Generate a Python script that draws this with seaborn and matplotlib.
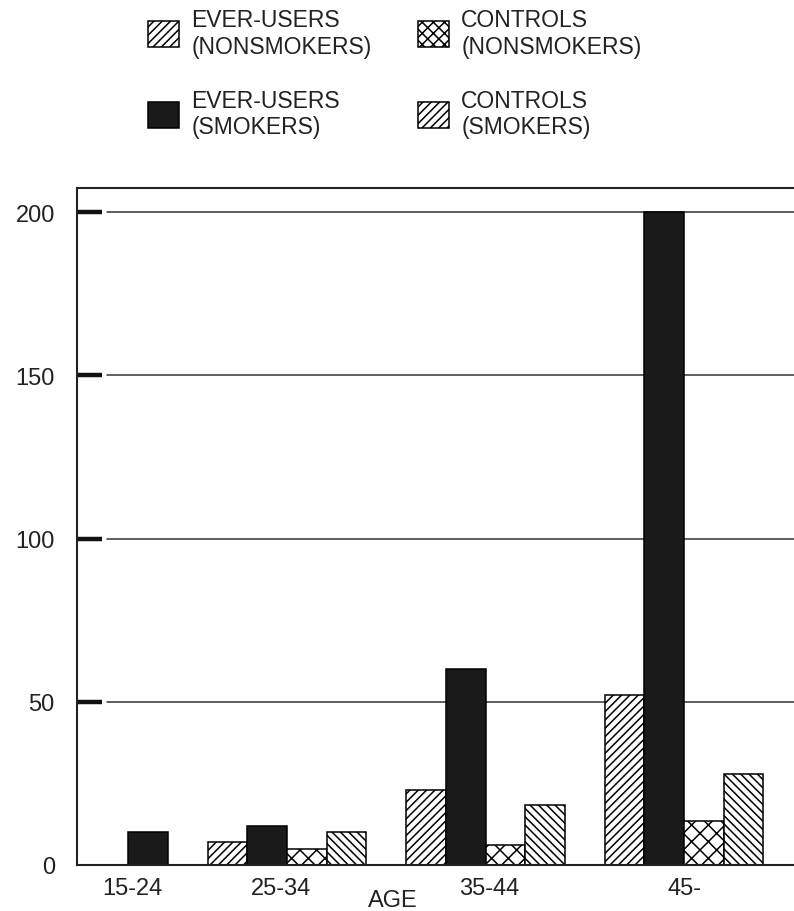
import matplotlib
matplotlib.use("Agg")
import matplotlib.pyplot as plt
from matplotlib.patches import Patch
import seaborn as sns
import pandas as pd

# data
age_groups = ["15-24", "25-34", "35-44", "45-"]
series = ["EVER-USERS\n(NONSMOKERS)", "EVER-USERS\n(SMOKERS)",
          "CONTROLS\n(NONSMOKERS)", "CONTROLS\n(SMOKERS)"]
ever_nonsmokers = [None, 7, 23, 52]
ever_smokers = [10, 12, 60, 200]
controls_nonsmokers = [None, 5, 6, 13.5]
controls_smokers = [None, 10, 18.5, 28]

y_ticks = [0, 50, 100, 150, 200]

# layout: where each age group sits on the x axis, and where its label goes
group_pos = [0.4, 1, 2, 3]
label_pos = [0.22, 0.97, 2.02, 3.0]

fills = ["white", "#1a1a1a", "white", "white"]
hatches = ["////", "", "xx", "\\\\\\\\"]
legend_hatches = ["////", "", "xxx", "////"]
text_color = "#222222"

rows = []
for name, vals in zip(series, [ever_nonsmokers, ever_smokers, controls_nonsmokers, controls_smokers]):
    for pos, v in zip(group_pos, vals):
        if v is not None:
            rows.append({"pos": pos, "value": v, "series": name})
df = pd.DataFrame(rows)

sns.set_style("white")
plt.rcParams["font.family"] = ["Liberation Sans", "DejaVu Sans"]
plt.rcParams["hatch.linewidth"] = 1.1

fig = plt.figure(figsize=(7.94, 9.12), dpi=100)
ax = fig.add_axes([77 / 794, 46 / 912, 1 - 77 / 794, (866 - 189) / 912])

# native width here is 0.6 (gap between the first two groups), so scale back up to 0.8
sns.barplot(data=df, x="pos", y="value", hue="series", hue_order=series,
            palette=fills, native_scale=True, width=0.8 / 0.6, errorbar=None,
            edgecolor="black", linewidth=1.1, legend=False, ax=ax, zorder=2)

for cont, h in zip(ax.containers, hatches):
    for bar in cont:
        bar.set_hatch(h)
        bar.set_edgecolor("black")

# gridlines start a little to the right of the thick tick marks
for t in y_ticks[1:]:
    ax.axhline(t, xmin=0.042, xmax=1, color="#333333", lw=1.1, zorder=0.5)

ax.set_ylim(0, 207.4)
ax.set_xlim(-0.058, 3.554)
ax.set_yticks(y_ticks)
ax.set_xticks(label_pos)
ax.set_xticklabels(age_groups)
ax.set_ylabel("")
ax.set_xlabel("AGE", fontsize=17, color=text_color)
ax.xaxis.set_label_coords(0.441, -0.036)

ax.tick_params(axis="y", left=True, direction="in", length=18, width=3.2, pad=16,
               color="#111111", labelsize=17, labelcolor=text_color)
ax.tick_params(axis="x", bottom=False, length=0, pad=9, labelsize=17, labelcolor=text_color)
ax.yaxis.get_major_ticks()[0].tick1line.set_visible(False)

for side in ["left", "top", "bottom"]:
    ax.spines[side].set_color("#222222")
    ax.spines[side].set_linewidth(1.5)
ax.spines["right"].set_visible(False)

handles = [Patch(facecolor=f, edgecolor="black", hatch=h, linewidth=1.1)
           for f, h in zip(fills, legend_hatches)]
fig.legend(handles, series, ncol=2, loc="upper left",
           bbox_to_anchor=(148 / 794, 1 - 9 / 912), frameon=False,
           fontsize=16.5, labelcolor=text_color, handlelength=1.35, handleheight=1.35,
           handletextpad=0.55, columnspacing=2.0, labelspacing=1.35,
           borderpad=0, borderaxespad=0)

fig.savefig("out.png", dpi=100)
plt.close(fig)
